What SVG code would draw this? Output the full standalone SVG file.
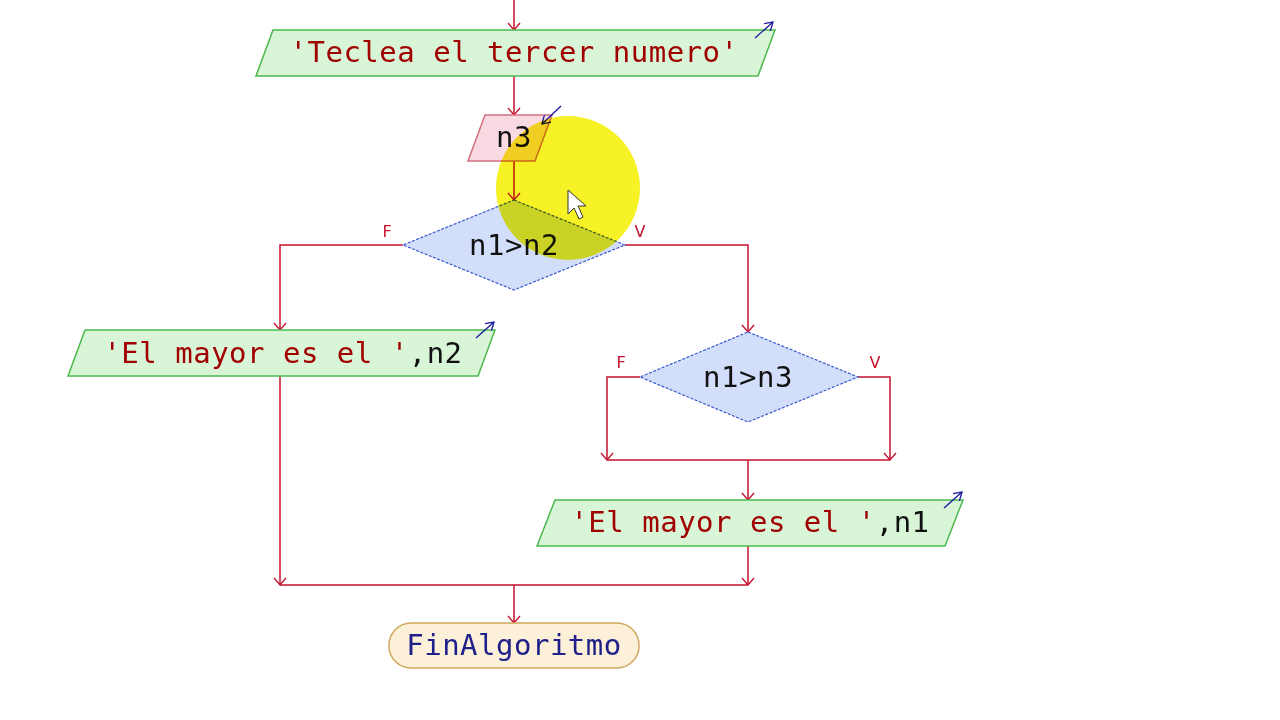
<svg xmlns="http://www.w3.org/2000/svg" width="1280" height="720" viewBox="0 0 1280 720">
<defs>
<marker id="ah" viewBox="0 0 12 14" refX="11" refY="7" markerWidth="12" markerHeight="14" markerUnits="userSpaceOnUse" orient="auto">
<polyline points="4,1 11,7 4,13" fill="none" stroke="#c8102e" stroke-width="1.3"/>
</marker>
<marker id="bh" viewBox="0 0 10 10" refX="9" refY="5" markerWidth="10" markerHeight="10" markerUnits="userSpaceOnUse" orient="auto">
<polyline points="1,0 9,5 1,10" fill="none" stroke="#1a1aa0" stroke-width="1.3"/>
</marker>
</defs>
<style>
.c{fill:none;stroke:#c8102e;stroke-width:1.5}
.io{fill:#d8f5d8;stroke:#4cb84c;stroke-width:1.5}
.dec{fill:#d2defa;stroke:#3a5ad0;stroke-width:1.2;stroke-dasharray:3 1.5}
.t{font-family:"DejaVu Sans Mono","Liberation Mono",monospace;font-size:29px;letter-spacing:0.5px;text-anchor:middle;dominant-baseline:central}
.s{fill:#a00000}
.k{fill:#111}
.l{font-family:"DejaVu Sans","Liberation Sans",sans-serif;font-size:16px;fill:#c8102e}
.ba{stroke:#1a1aa0;stroke-width:1.3;fill:none}
</style>
<rect width="1280" height="720" fill="#ffffff"/>
<g id="connectors">
<line class="c" x1="514" y1="0" x2="514" y2="30" marker-end="url(#ah)"/>
<line class="c" x1="514" y1="76" x2="514" y2="115" marker-end="url(#ah)"/>
<line class="c" x1="514" y1="161" x2="514" y2="200" marker-end="url(#ah)"/>
<polyline class="c" points="403,245 280,245 280,330" marker-end="url(#ah)"/>
<polyline class="c" points="625,245 748,245 748,332" marker-end="url(#ah)"/>
<polyline class="c" points="640,377 607,377 607,460" marker-end="url(#ah)"/>
<polyline class="c" points="858,377 890,377 890,460" marker-end="url(#ah)"/>
<line class="c" x1="607" y1="460" x2="890" y2="460"/>
<line class="c" x1="748" y1="460" x2="748" y2="500" marker-end="url(#ah)"/>
<line class="c" x1="280" y1="376" x2="280" y2="585" marker-end="url(#ah)"/>
<line class="c" x1="748" y1="546" x2="748" y2="585" marker-end="url(#ah)"/>
<line class="c" x1="280" y1="585" x2="748" y2="585"/>
<line class="c" x1="514" y1="585" x2="514" y2="623" marker-end="url(#ah)"/>
<text class="l" x="387" y="237" text-anchor="middle">F</text>
<text class="l" x="640" y="237" text-anchor="middle">V</text>
<text class="l" x="621" y="368" text-anchor="middle">F</text>
<text class="l" x="875" y="368" text-anchor="middle">V</text>
</g>
<g id="out1">
<polygon class="io" points="273,30 775,30 758,76 256,76"/>
<text class="t s" x="514" y="52">'Teclea el tercer numero'</text>
<line class="ba" x1="755" y1="38" x2="773" y2="22" marker-end="url(#bh)"/>
</g>
<g id="read-n3">
<polygon points="485,115 552,115 535,161 468,161" fill="#f9d9e2" stroke="#d07080" stroke-width="1.5"/>
<text class="t k" x="514" y="137">n3</text>
<line class="ba" x1="561" y1="106" x2="542" y2="124" marker-end="url(#bh)"/>
</g>
<g id="dec1">
<polygon class="dec" points="514,200 625,245 514,290 403,245"/>
<text class="t k" x="514" y="245">n1&gt;n2</text>
</g>
<g id="out2">
<polygon class="io" points="85,330 495,330 478,376 68,376"/>
<text x="283" y="353" class="t"><tspan class="s">'El mayor es el '</tspan><tspan class="k">,n2</tspan></text>
<line class="ba" x1="476" y1="338" x2="494" y2="322" marker-end="url(#bh)"/>
</g>
<g id="dec2">
<polygon class="dec" points="748,332 858,377 748,422 640,377"/>
<text class="t k" x="748" y="377">n1&gt;n3</text>
</g>
<g id="out3">
<polygon class="io" points="555,500 963,500 945,546 537,546"/>
<text x="750" y="522" class="t"><tspan class="s">'El mayor es el '</tspan><tspan class="k">,n1</tspan></text>
<line class="ba" x1="944" y1="508" x2="962" y2="492" marker-end="url(#bh)"/>
</g>
<g id="end">
<rect x="389" y="623" width="250" height="45" rx="22" fill="#fdf0d8" stroke="#d0a860" stroke-width="1.5"/>
<text class="t" x="514" y="645" fill="#20208a">FinAlgoritmo</text>
</g>
<circle cx="568" cy="188" r="72" fill="#f5f000" opacity="0.85" style="mix-blend-mode:multiply"/>
<path d="M568,190 L568,214 L574,208 L579,219 L583,217 L578,206 L586,206 Z" fill="#ffffff" stroke="#333" stroke-width="1"/>
</svg>
